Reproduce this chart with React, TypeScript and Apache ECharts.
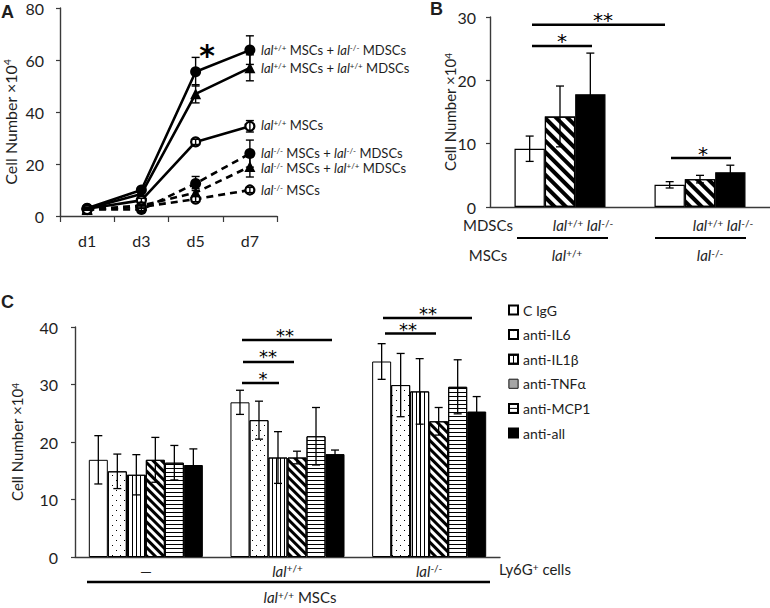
import React, { useEffect, useRef } from 'react';
import * as echarts from 'echarts';

const FONT = 'Lato, "Open Sans", sans-serif';
const STAR = '"DejaVu Sans", sans-serif';
const TXT = '#1e1e1e';
const AX = '#3a3a3a';

// ---------- Panel A (growth curves) ----------
const daysA = ['d1', 'd3', 'd5', 'd7'];
const wtMscKoMdsc = [3, 10, 55.5, 63.8];
const wtMscKoMdscErr = [0.5, 1, 5.5, 5.5];
const wtMscWtMdsc = [2.8, 8.5, 47, 57];
const wtMscWtMdscErr = [0.4, 1, 3.5, 5];
const wtMscOnly = [2.8, 6, 28.5, 34.5];
const wtMscOnlyErr = [0.3, 0.8, 1, 2.2];
const koMscKoMdsc = [2.5, 2.5, 12.5, 24];
const koMscKoMdscErr = [0.3, 0.5, 2.7, 5.2];
const koMscWtMdsc = [2.5, 4, 9, 19];
const koMscWtMdscErr = [0.3, 0.5, 1.5, 4];
const koMscOnly = [2.5, 3.5, 6.5, 10];
const koMscOnlyErr = [0.3, 0.5, 1, 1];

// ---------- Panel B ----------
const mscGroupsB = ['lal+/+', 'lal-/-'];
const bAlone = [9.2, 3.5];
const bAloneErr = [2, 0.5];
const bWtMdsc = [14.3, 4.4];
const bWtMdscErr = [4.8, 0.6];
const bKoMdsc = [17.8, 5.5];
const bKoMdscErr = [6.5, 1.1];

// ---------- Panel C ----------
const ly6gGroupsC = ['—', 'lal+/+', 'lal-/-'];
const treatmentsC = ['C IgG', 'anti-IL6', 'anti-IL1β', 'anti-TNFα', 'anti-MCP1', 'anti-all'];
const cIgG = [16.9, 26.9, 34.0];
const cIgGErr = [4.2, 2.1, 3.1];
const cIL6 = [14.9, 23.8, 29.9];
const cIL6Err = [3, 3.3, 5.5];
const cIL1b = [14.3, 17.3, 28.8];
const cIL1bErr = [3.5, 4.5, 5.7];
const cTNFa = [16.9, 17.3, 23.6];
const cTNFaErr = [3.9, 1.1, 2.4];
const cMCP1 = [16.4, 21.0, 29.6];
const cMCP1Err = [3, 5, 4.7];
const cAll = [16.0, 17.9, 25.3];
const cAllErr = [2.8, 0.7, 2.6];

const richG = (fs: number) => {
  const sf = Math.round(fs * 0.64);
  return {
    n: { fontSize: fs, fontFamily: FONT, fill: TXT, lineHeight: fs },
    i: { fontSize: fs, fontFamily: FONT, fill: TXT, fontStyle: 'italic', lineHeight: fs },
    s: { fontSize: sf, fontFamily: FONT, fill: TXT, lineHeight: sf, verticalAlign: 'top' },
  };
};
const richO = (fs: number) => {
  const sf = Math.round(fs * 0.64);
  return {
    n: { fontSize: fs, fontFamily: FONT, color: TXT, lineHeight: fs },
    i: { fontSize: fs, fontFamily: FONT, color: TXT, fontStyle: 'italic', lineHeight: fs },
    s: { fontSize: sf, fontFamily: FONT, color: TXT, lineHeight: sf, verticalAlign: 'top' },
  };
};

const genoRich = (g: string) => (g === '—' ? '{n|—}' : `{i|lal}{s|${g.replace('lal', '')}}`);

const txt = (x: number, y: number, text: string, fs: number, align = 'center', rot = 0, weight = 'normal', family = FONT) => ({
  type: 'text',
  x,
  y,
  rotation: rot,
  silent: true,
  style: {
    text,
    fontSize: fs,
    fontFamily: family,
    fontWeight: weight,
    fill: TXT,
    align,
    verticalAlign: 'middle',
    lineHeight: fs,
    rich: richG(fs),
  },
});
// y = visual centre of the asterisk glyph
const star = (x: number, y: number, text: string, fs = 20, weight = 'normal') => ({
  type: 'text',
  x,
  y: y + fs * 0.17,
  silent: true,
  style: { text, fontSize: fs, fontFamily: STAR, fontWeight: weight, fill: '#000', align: 'center', verticalAlign: 'middle', lineHeight: fs },
});
const hline = (x1: number, x2: number, y: number, w = 2.6) => ({
  type: 'line',
  silent: true,
  shape: { x1, y1: y, x2, y2: y },
  style: { stroke: '#000', lineWidth: w },
});

const makeErr = (n: number, occupied: number, k: number, cap: number, lw: number) => (params: any, api: any) => {
  const cat = api.value(0);
  const lo = api.coord([cat, api.value(1)]);
  const hi = api.coord([cat, api.value(2)]);
  const band = api.size([1, 0])[0];
  const bw = (band * occupied) / n;
  const x = lo[0] - (band * occupied) / 2 + (k + 0.5) * bw;
  const st = { stroke: '#000', lineWidth: lw };
  return {
    type: 'group',
    children: [
      { type: 'line', shape: { x1: x, y1: lo[1], x2: x, y2: hi[1] }, style: st },
      { type: 'line', shape: { x1: x - cap / 2, y1: hi[1], x2: x + cap / 2, y2: hi[1] }, style: st },
      { type: 'line', shape: { x1: x - cap / 2, y1: lo[1], x2: x + cap / 2, y2: lo[1] }, style: st },
    ],
  };
};
const errData = (m: number[], e: number[]) => m.map((v, i) => [i, v - e[i], v + e[i]]);

const decalBase = { symbol: 'rect', symbolSize: 1, symbolKeepAspect: false, rotation: 0, color: '#000', backgroundColor: '#fff' };
const decalDiag = (gap: number) => ({ ...decalBase, dashArrayX: [1, 0], dashArrayY: [gap, gap], rotation: Math.PI / 4 });
const decalDots = { ...decalBase, dashArrayX: [[1, 7], [0, 4, 1, 3]], dashArrayY: [1, 3.5] };
const decalVert = { ...decalBase, dashArrayX: [1, 3], dashArrayY: [1, 0] };
const decalHorz = { ...decalBase, dashArrayX: [1, 0], dashArrayY: [1, 3] };
const decalGrey = { ...decalBase, dashArrayX: [1, 0], dashArrayY: [1, 0], color: '#a6a6a6', backgroundColor: '#a6a6a6' };

export default function App() {
  const ref = useRef<HTMLDivElement>(null);
  useEffect(() => {
    if (!ref.current) return;
    const chart = echarts.init(ref.current, undefined, { renderer: 'svg' });

    const aDefs = [
      { name: 'wtMsc+koMdsc', m: wtMscKoMdsc, e: wtMscKoMdscErr, sym: 'circle', open: false, dash: false, size: 11 },
      { name: 'wtMsc+wtMdsc', m: wtMscWtMdsc, e: wtMscWtMdscErr, sym: 'triangle', open: false, dash: false, size: 11 },
      { name: 'wtMsc', m: wtMscOnly, e: wtMscOnlyErr, sym: 'circle', open: true, dash: false, size: 9 },
      { name: 'koMsc+koMdsc', m: koMscKoMdsc, e: koMscKoMdscErr, sym: 'circle', open: false, dash: true, size: 11 },
      { name: 'koMsc+wtMdsc', m: koMscWtMdsc, e: koMscWtMdscErr, sym: 'triangle', open: false, dash: true, size: 11 },
      { name: 'koMsc', m: koMscOnly, e: koMscOnlyErr, sym: 'circle', open: true, dash: true, size: 9 },
    ];
    const series: any[] = [];
    aDefs.forEach((d) => {
      series.push({
        type: 'line', name: d.name, xAxisIndex: 0, yAxisIndex: 0, data: d.m,
        symbol: d.sym, symbolSize: d.size, z: 3,
        lineStyle: { color: '#000', width: 2.6, type: d.dash ? [7, 5] : 'solid' },
        itemStyle: d.open ? { color: '#fff', borderColor: '#000', borderWidth: 2.2 } : { color: '#000' },
      });
      series.push({
        type: 'custom', xAxisIndex: 0, yAxisIndex: 0, data: errData(d.m, d.e), z: 4, silent: true,
        encode: { x: 0, y: [1, 2] }, renderItem: makeErr(1, 1, 0, 8, 1.4),
      });
    });

    const bDefs: any[] = [
      { name: 'B-alone', m: bAlone, e: bAloneErr, style: { color: '#fff' } },
      { name: 'B-wt', m: bWtMdsc, e: bWtMdscErr, style: { color: '#fff', decal: decalDiag(3.6) } },
      { name: 'B-ko', m: bKoMdsc, e: bKoMdscErr, style: { color: '#000' } },
    ];
    const occB = 0.65;
    bDefs.forEach((d) => {
      series.push({
        type: 'bar', name: d.name, xAxisIndex: 1, yAxisIndex: 1, data: d.m,
        barGap: '0%', barCategoryGap: `${Math.round((1 - occB) * 100)}%`,
        itemStyle: { ...d.style, borderColor: '#000', borderWidth: 1.2 }, z: 2,
      });
    });
    bDefs.forEach((d, k) => {
      series.push({
        type: 'custom', xAxisIndex: 1, yAxisIndex: 1, data: errData(d.m, d.e), z: 4, silent: true,
        encode: { x: 0, y: [1, 2] }, renderItem: makeErr(3, occB, k, 8, 1.3),
      });
    });

    const cVals = [cIgG, cIL6, cIL1b, cTNFa, cMCP1, cAll];
    const cErrs = [cIgGErr, cIL6Err, cIL1bErr, cTNFaErr, cMCP1Err, cAllErr];
    const cStyles: any[] = [
      { color: '#fff' },
      { color: '#fff', decal: decalDots },
      { color: '#fff', decal: decalVert },
      { color: '#fff', decal: decalDiag(3) },
      { color: '#fff', decal: decalHorz },
      { color: '#000' },
    ];
    const occC = 0.805;
    treatmentsC.forEach((t, k) => {
      series.push({
        type: 'bar', name: t, xAxisIndex: 2, yAxisIndex: 2, data: cVals[k],
        barGap: '0%', barCategoryGap: `${((1 - occC) * 100).toFixed(1)}%`,
        itemStyle: { ...cStyles[k], borderColor: '#000', borderWidth: 1 }, z: 2,
      });
    });
    treatmentsC.forEach((t, k) => {
      series.push({
        type: 'custom', xAxisIndex: 2, yAxisIndex: 2, data: errData(cVals[k], cErrs[k]), z: 4, silent: true,
        encode: { x: 0, y: [1, 2] }, renderItem: makeErr(6, occC, k, 8, 1.3),
      });
    });

    const yAxisBase = (grid: number, max: number, margin: number) => ({
      type: 'value', gridIndex: grid, min: 0, max, interval: max === 80 ? 20 : 10,
      splitLine: { show: false },
      axisLine: { show: true, lineStyle: { color: AX, width: 1.4 } },
      axisTick: { show: true, length: 4, lineStyle: { color: AX, width: 1.2 } },
      axisLabel: { fontSize: 16, fontFamily: FONT, color: TXT, margin, lineHeight: 14 },
    });

    const graphic: any[] = [
      // Panel letters
      txt(1, 12, 'A', 18, 'left', 0, 'bold', '"Liberation Sans", Arial, sans-serif'),
      txt(430, 9, 'B', 18, 'left', 0, 'bold', '"Liberation Sans", Arial, sans-serif'),
      txt(1, 302, 'C', 18, 'left', 0, 'bold', '"Liberation Sans", Arial, sans-serif'),
      // Y titles
      txt(10, 122, '{n|Cell Number ×10}{s|4}', 16, 'center', Math.PI / 2),
      txt(450, 112, '{n|Cell Number ×10}{s|4}', 15, 'center', Math.PI / 2),
      txt(17, 442, '{n|Cell Number ×10}{s|4}', 15, 'center', Math.PI / 2),
      // Panel A labels
      txt(261, 50, '{i|lal}{s|+/+}{n| MSCs + }{i|lal}{s|-/-}{n| MDSCs}', 13, 'left'),
      txt(261, 68, '{i|lal}{s|+/+}{n| MSCs + }{i|lal}{s|+/+}{n| MDSCs}', 13, 'left'),
      txt(261, 125, '{i|lal}{s|+/+}{n| MSCs}', 13, 'left'),
      txt(261, 153, '{i|lal}{s|-/-}{n| MSCs + }{i|lal}{s|-/-}{n| MDSCs}', 13, 'left'),
      txt(261, 168, '{i|lal}{s|-/-}{n| MSCs + }{i|lal}{s|+/+}{n| MDSCs}', 13, 'left'),
      txt(261, 190, '{i|lal}{s|-/-}{n| MSCs}', 13, 'left'),
      star(207, 50, '*', 30, 'bold'),
      // Panel B significance
      hline(532, 665, 24.7), star(603, 17, '**'),
      hline(532, 592, 46), star(562, 37.5, '*'),
      hline(671, 731, 158), star(703, 150.5, '*'),
      // Panel B labels
      txt(488, 225, '{n|MDSCs}', 15),
      txt(583, 225, '{i|lal}{s|+/+}{i| lal}{s|-/-}', 15),
      txt(723, 225, '{i|lal}{s|+/+}{i| lal}{s|-/-}', 15),
      hline(517, 608, 238, 2.2), hline(655, 746, 238, 2.2),
      txt(488, 255, '{n|MSCs}', 15),
      txt(567, 255, '{i|lal}{s|+/+}', 15),
      txt(710, 255, '{i|lal}{s|-/-}', 15),
      // Panel C significance
      hline(242, 332, 340), star(285, 332, '**', 18),
      hline(243, 294, 362), star(268, 353, '**', 18),
      hline(242, 279, 383), star(263, 375.5, '*', 18),
      hline(383, 472, 318), star(428, 310.5, '**', 18),
      hline(385, 436, 333.5), star(408, 326, '**', 18),
      // Panel C bottom labels
      txt(535, 569, '{n|Ly6G}{s|+}{n| cells}', 15),
      hline(87, 490, 582, 2.4),
      txt(300, 597, '{i|lal}{s|+/+}{n| MSCs}', 15),
    ];

    chart.setOption({
      animation: false,
      textStyle: { fontFamily: FONT },
      grid: [
        { left: 60, top: 8, width: 217, height: 208 },
        { left: 490, top: 17, width: 280, height: 190 },
        { left: 75, top: 327, width: 425, height: 230 },
      ],
      xAxis: [
        {
          type: 'category', gridIndex: 0, data: daysA, boundaryGap: true,
          axisLine: { lineStyle: { color: AX, width: 1.4 } },
          axisTick: { show: true, length: 6, lineStyle: { color: AX, width: 1.2 } },
          axisLabel: { fontSize: 16, fontFamily: FONT, color: TXT, margin: 16 },
        },
        {
          type: 'category', gridIndex: 1, data: mscGroupsB,
          axisLine: { lineStyle: { color: AX, width: 1.4 } },
          axisTick: { show: false }, axisLabel: { show: false },
        },
        {
          type: 'category', gridIndex: 2, data: ly6gGroupsC,
          axisLine: { lineStyle: { color: AX, width: 1.4 } },
          axisTick: { show: false },
          axisLabel: { margin: 6, formatter: (v: string) => genoRich(v), rich: richO(15) },
        },
      ],
      yAxis: [yAxisBase(0, 80, 16), yAxisBase(1, 30, 14), yAxisBase(2, 40, 17)],
      legend: {
        orient: 'vertical', left: 503, top: 297, itemWidth: 9, itemHeight: 9, itemGap: 8.6,
        icon: 'rect', textStyle: { fontSize: 14, fontFamily: FONT, color: TXT, lineHeight: 16 },
        data: treatmentsC.map((t, k) => (k === 3 ? { name: t, itemStyle: { color: '#a6a6a6', decal: decalGrey, borderColor: '#333', borderWidth: 1 } } : { name: t })),
      },
      series,
      graphic,
    });
    return () => chart.dispose();
  }, []);
  return <div ref={ref} style={{ position: 'absolute', left: 0, top: 0, width: 770, height: 608, background: '#fff' }} />;
}
